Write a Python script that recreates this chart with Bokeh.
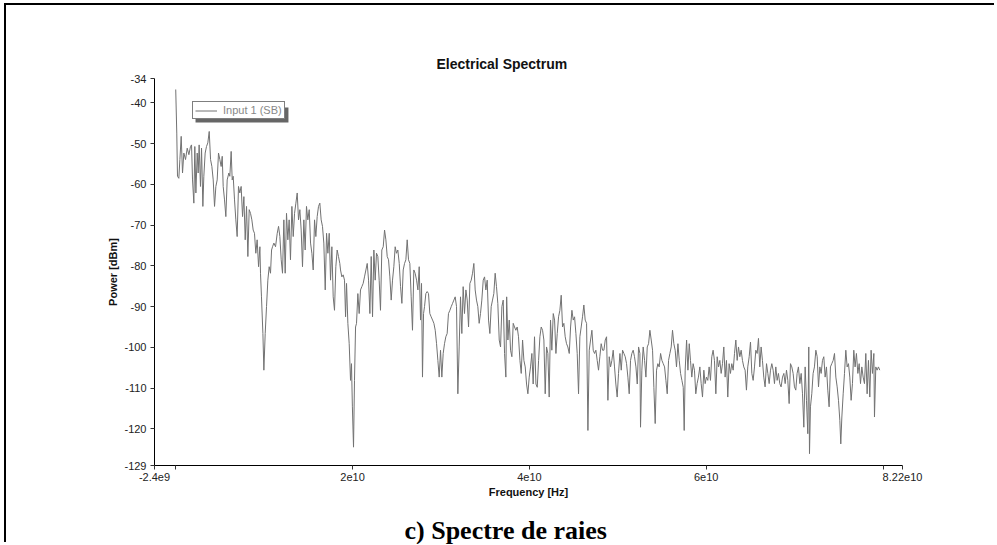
from bokeh.plotting import figure
from bokeh.models import Range1d, FixedTicker, Legend, LegendItem, BoxAnnotation, Title
from bokeh.embed import file_html
from bokeh.resources import INLINE

# ---- data (frequency in GHz, power in dBm) ----
freq_ghz = [
    0.00, 0.12, 0.20, 0.35, 0.47, 0.62, 0.77, 0.92, 1.11, 1.30, 1.49, 1.67, 1.79, 1.90, 2.05, 2.16, 2.28, 2.43,
    2.54, 2.65, 2.80, 2.92, 3.07, 3.18, 3.33, 3.48, 3.63, 3.79, 3.94, 4.09, 4.24, 4.39, 4.54, 4.69, 4.84, 4.99,
    5.14, 5.26, 5.37, 5.52, 5.67, 5.82, 6.01, 6.12, 6.27, 6.39, 6.50, 6.65, 6.80, 6.95, 7.10, 7.25, 7.40, 7.56,
    7.71, 7.86, 8.01, 8.16, 8.31, 8.46, 8.61, 8.76, 8.91, 9.06, 9.21, 9.37, 9.52, 9.59, 9.70, 9.86, 9.97, 10.12,
    10.27, 10.42, 10.57, 10.72, 10.84, 10.95, 11.10, 11.29, 11.48, 11.63, 11.78, 11.93, 12.08, 12.23, 12.38,
    12.53, 12.68, 12.83, 12.98, 13.14, 13.29, 13.44, 13.59, 13.74, 13.89, 14.04, 14.19, 14.34, 14.49, 14.64,
    14.79, 14.94, 15.10, 15.25, 15.40, 15.55, 15.70, 15.85, 16.00, 16.15, 16.30, 16.45, 16.60, 16.75, 16.91,
    17.06, 17.21, 17.36, 17.51, 17.66, 17.81, 17.96, 18.11, 18.26, 18.41, 18.56,
    18.64, 18.79, 18.94, 19.09, 19.21, 19.32, 19.47, 19.62, 19.77, 19.88, 19.98, 20.11, 20.22, 20.34, 20.45,
    20.60, 20.75, 20.90, 21.05, 21.20, 21.35, 21.51, 21.66, 21.81, 21.96, 22.11, 22.26, 22.41, 22.56, 22.71,
    22.86, 23.01, 23.16, 23.31, 23.47, 23.62, 23.77, 23.92, 24.07, 24.22, 24.37, 24.52, 24.67, 24.82, 24.97,
    25.12, 25.28, 25.43, 25.58, 25.73, 25.88, 26.03, 26.18, 26.33, 26.48, 26.63, 26.78, 26.93, 27.08, 27.24,
    27.39, 27.54, 27.69, 27.80, 27.91, 28.03, 28.14, 28.29, 28.44, 28.59, 28.74, 28.89, 29.05, 29.20, 29.35,
    29.50, 29.65, 29.80, 29.95, 30.10, 30.25, 30.40, 30.55, 30.70, 30.85, 31.01, 31.16, 31.31, 31.46, 31.61,
    31.76, 31.91, 32.06, 32.21, 32.36, 32.51, 32.66, 32.82, 32.97, 33.12, 33.27, 33.42, 33.57, 33.72, 33.87,
    34.02, 34.17, 34.32, 34.47, 34.62, 34.78, 34.93, 35.08, 35.23, 35.38, 35.53, 35.68, 35.83, 35.98, 36.13,
    36.28, 36.43, 36.59, 36.74, 36.89, 37.04, 37.19, 37.34, 37.43, 37.57, 37.72,
    37.87, 38.02, 38.17, 38.32, 38.47, 38.62, 38.77, 38.93, 39.08, 39.23, 39.38, 39.53, 39.68, 39.83, 39.98,
    40.13, 40.28, 40.43, 40.58, 40.74, 40.89, 41.04, 41.19, 41.34, 41.49, 41.64, 41.79, 41.94, 42.09, 42.24,
    42.39, 42.54, 42.70, 42.85, 43.00, 43.15, 43.30, 43.45, 43.60, 43.75, 43.90, 44.05, 44.20, 44.35, 44.51,
    44.66, 44.81, 44.96, 45.11, 45.26, 45.41, 45.56, 45.71, 45.86, 46.01, 46.16, 46.31, 46.47, 46.62, 46.77,
    46.92, 47.07, 47.22, 47.37, 47.52, 47.67, 47.82, 47.97, 48.12, 48.28, 48.43, 48.58, 48.73, 48.88, 49.03,
    49.18, 49.33, 49.48, 49.63, 49.78, 49.93, 50.08, 50.24, 50.39, 50.54, 50.69, 50.84, 50.99, 51.14, 51.29,
    51.44, 51.59, 51.74, 51.89, 52.05, 52.20, 52.35, 52.50, 52.57, 52.72, 52.87, 53.03, 53.18, 53.33, 53.48,
    53.63, 53.78, 53.93, 54.08, 54.23, 54.38, 54.53, 54.68, 54.84, 54.99, 55.14, 55.29, 55.44, 55.59, 55.74,
    55.89, 56.04, 56.19, 56.34, 56.49, 56.64, 56.80, 56.95, 57.10, 57.25, 57.40, 57.51, 57.62, 57.78, 57.93,
    58.08,
    58.22, 58.37, 58.52, 58.67, 58.82, 58.97, 59.12, 59.28, 59.43, 59.58, 59.73, 59.88, 60.03, 60.18, 60.33,
    60.48, 60.63, 60.78, 60.93, 61.09, 61.24, 61.39, 61.54, 61.69, 61.84, 61.99, 62.14, 62.29, 62.44, 62.59,
    62.74, 62.89, 63.05, 63.20, 63.35, 63.50, 63.65, 63.80, 63.95, 64.10, 64.25, 64.40, 64.55, 64.70, 64.86,
    65.01, 65.16, 65.31, 65.46, 65.61, 65.76, 65.91, 66.06, 66.21, 66.36, 66.51, 66.66, 66.82, 66.97, 67.12,
    67.27, 67.42, 67.57, 67.72, 67.87, 68.02, 68.17, 68.32, 68.47, 68.63, 68.78, 68.93, 69.08, 69.23, 69.38,
    69.53, 69.68, 69.83, 69.98, 70.13, 70.28, 70.43, 70.59, 70.74, 70.89, 71.04, 71.19, 71.34, 71.49, 71.60,
    71.68, 71.79, 71.94, 72.09, 72.24, 72.40, 72.55, 72.70, 72.85, 73.00, 73.15, 73.30, 73.45, 73.60, 73.75,
    73.90, 74.05, 74.20, 74.36, 74.51, 74.66, 74.81, 74.96, 75.11, 75.22, 75.34, 75.49, 75.64, 75.79, 75.94,
    76.09, 76.24, 76.39, 76.54, 76.69, 76.84, 76.99, 77.15, 77.30, 77.45, 77.60, 77.75, 77.90, 78.05, 78.20,
    78.35, 78.50, 78.65, 78.80, 78.96, 79.03, 79.18, 79.33, 79.48, 79.63,
]

power_dbm = [
    -36.7, -47.4, -58.0, -58.5, -53.9, -48.2, -57.2, -52.3, -53.9, -51.1, -52.7, -50.7, -50.3, -58.9, -64.6, -50.7, -62.1, -52.3,
    -57.2, -50.3, -60.5, -51.1, -65.4, -58.0, -52.3, -50.7, -49.8, -47.0, -53.9, -55.6, -58.9, -65.4, -60.5, -58.9, -52.3, -53.9,
    -55.6, -53.1, -60.5, -63.8, -67.9, -58.9, -57.2, -58.0, -51.9, -58.9, -58.0, -63.8, -68.7, -72.8, -60.5, -62.1, -60.5, -67.9,
    -63.0, -73.6, -65.4, -77.7, -66.2, -67.1, -68.7, -71.2, -72.0, -76.9, -73.6, -80.2, -75.3, -81.8, -87.6, -96.6, -105.6, -96.6,
    -90.0, -83.5, -80.2, -81.8, -76.1, -75.3, -74.4, -75.3, -72.0, -70.3, -72.8, -78.5, -81.8, -68.7, -81.8,
    -67.1, -73.6, -68.7, -78.5, -65.4, -72.8, -67.1, -64.6, -62.1, -68.7, -66.2, -71.2, -80.2, -68.7, -76.1,
    -65.4, -68.7, -66.2, -74.4, -76.9, -81.0, -68.7, -72.8, -67.9, -65.4, -64.6, -68.7, -70.3, -74.4, -85.9,
    -72.0, -76.9, -72.0, -83.5, -75.3, -87.6, -90.9, -80.2, -76.1, -77.7, -79.4,
    -81.0, -82.7, -82.2, -83.5, -92.5, -84.3, -94.1, -99.1, -108.1, -104.0, -114.6, -124.5, -108.1, -95.0, -94.1,
    -86.8, -91.7, -85.9, -85.1, -84.3, -82.7, -81.0, -79.4, -83.5, -91.7, -77.7, -92.5, -76.1, -83.5, -76.9,
    -77.7, -83.5, -90.9, -76.1, -75.3, -71.2, -73.6, -77.7, -78.5, -82.7, -88.4, -83.5, -80.2, -75.3, -76.9,
    -76.1, -79.4, -85.1, -89.2, -81.0, -79.4, -78.5, -73.6, -78.5, -79.4, -87.6, -95.8, -81.0, -81.8, -83.5,
    -85.9, -80.2, -93.3, -84.3, -107.3, -91.7, -90.0, -86.8, -86.3, -86.8, -91.7, -92.5, -93.3, -94.1, -95.8,
    -99.1, -103.2, -107.3, -100.7, -107.3, -101.5, -99.1, -97.4, -96.6, -91.7, -90.9, -90.0, -89.2, -88.4, -87.6,
    -90.0, -111.4, -99.9, -87.6, -96.6, -85.1, -91.7, -85.9, -88.4, -95.0, -84.3, -83.5, -81.8, -79.4, -85.9,
    -88.4, -90.0, -94.1, -91.7, -88.4, -83.5, -82.7, -85.9, -83.5, -93.3, -96.6, -90.0, -88.4, -86.8, -81.8,
    -85.1, -89.2, -98.2, -99.9, -90.0, -88.4, -101.5, -107.3, -87.6, -98.2, -93.3,
    -100.7, -102.3, -94.1, -95.0, -95.8, -95.0, -97.4, -103.2, -106.4, -98.2, -103.2, -104.8, -109.0, -111.4, -107.3,
    -104.8, -101.5, -109.0, -97.4, -109.0, -109.8, -103.2, -97.4, -95.0, -95.8, -98.2, -111.4, -99.9, -101.5, -112.2,
    -93.3, -100.7, -91.7, -93.3, -101.5, -96.6, -92.5, -90.9, -87.2, -95.0, -94.1, -97.4, -99.1, -99.9, -101.5,
    -95.0, -90.9, -93.3, -92.5, -96.6, -101.5, -111.4, -97.4, -95.0, -92.5, -89.6, -93.3, -94.1, -120.4, -100.7,
    -98.2, -95.8, -100.7, -101.5, -100.7, -103.2, -105.6, -102.3, -99.1, -100.7, -100.7, -98.2, -97.4, -113.0, -102.3,
    -104.8, -103.2, -100.7, -104.8, -109.0, -112.2, -106.4, -101.5, -105.6, -100.7, -101.5, -102.3, -104.0, -107.3, -111.4,
    -103.2, -101.5, -100.7, -102.3, -104.8, -109.0, -99.9, -101.5, -119.6, -105.6, -99.9, -103.2, -107.3, -99.9, -99.1,
    -95.8, -98.2, -100.7, -109.8, -118.7, -105.6, -104.0, -104.8, -101.5, -103.2, -104.0, -104.8, -108.1, -111.4, -103.2,
    -101.5, -99.9, -95.8, -99.1, -100.7, -104.8, -99.1, -103.2, -106.4, -108.1, -109.8, -120.4, -105.6, -98.2, -105.6,
    -99.1,
    -103.2, -107.3, -104.0, -105.6, -111.4, -108.9, -107.3, -104.8, -108.9, -112.2, -105.6, -108.9, -107.3, -108.1, -104.8,
    -108.1, -102.3, -100.7, -103.2, -111.4, -102.3, -104.8, -103.2, -106.4, -104.0, -99.9, -107.3, -103.2, -112.2, -104.0,
    -106.4, -104.0, -105.6, -101.5, -98.2, -103.2, -99.9, -102.3, -100.7, -103.2, -104.8, -105.6, -110.5, -104.8, -102.3,
    -98.7, -106.4, -108.1, -104.8, -100.7, -101.5, -97.8, -104.8, -99.9, -103.2, -107.3, -109.7, -104.0, -106.4, -108.9,
    -105.6, -104.0, -105.6, -108.9, -104.8, -108.1, -106.4, -108.9, -109.7, -107.3, -106.4, -108.9, -105.6, -108.1, -113.8,
    -104.0, -104.8, -106.4, -109.7, -110.5, -106.4, -104.8, -108.9, -106.4, -111.4, -119.6, -104.8, -113.0, -121.2, -99.9,
    -126.1, -114.6, -111.4, -106.4, -104.8, -100.7, -102.3, -109.7, -104.8, -106.4, -103.2, -102.3, -107.3, -104.8, -110.5,
    -114.6, -104.8, -104.0, -103.2, -101.5, -107.3, -109.7, -113.0, -117.9, -123.7, -117.1, -111.4, -106.4, -100.7, -104.8,
    -104.0, -107.3, -113.0, -108.9, -100.7, -104.8, -101.5, -106.4, -104.0, -108.9, -104.8, -107.3, -108.9, -101.5, -111.4,
    -103.2, -112.2, -100.7, -106.4, -101.5, -117.1, -104.8, -105.6, -104.8, -105.6,
]

x_min, x_max = -2.4, 82.2          # GHz
y_min, y_max = -129, -34           # dBm
x_ticks = [-2.4, 0, 20, 40, 60, 80, 82.2]
x_tick_labels = {-2.4: "-2.4e9", 0: "", 20: "2e10", 40: "4e10", 60: "6e10", 80: "", 82.2: "8.22e10"}
y_ticks = [-129, -120, -110, -100, -90, -80, -70, -60, -50, -40, -34]
y_tick_labels = {v: str(v) for v in y_ticks}

FONT = "Liberation Sans"

p = figure(width=990, height=539, output_backend="svg", toolbar_location=None,
           x_range=Range1d(x_min, x_max), y_range=Range1d(y_min, y_max),
           min_border_left=148, min_border_right=94, min_border_top=73, min_border_bottom=79,
           background_fill_color="white", border_fill_color="white")
p.styles = {"position": "relative", "left": "6px", "top": "5px",
            "box-shadow": "-2px -2px 0px 0px black"}
p.outline_line_color = None
p.grid.visible = False

p.title.text = "Electrical Spectrum"
p.title.align = "left"
p.title.offset = 282
p.title.standoff = 14
p.title.text_font = FONT
p.title.text_font_size = "14px"
p.title.text_font_style = "bold"
p.title.text_color = "#111111"

for ax in (p.xaxis[0], p.yaxis[0]):
    ax.axis_line_color = "black"
    ax.axis_line_width = 1
    ax.major_tick_line_color = "#333333"
    ax.major_tick_in = 0
    ax.major_tick_out = 4
    ax.minor_tick_line_color = None
    ax.major_label_text_font = FONT
    ax.major_label_text_font_size = "11px"
    ax.major_label_text_color = "#222222"
    ax.axis_label_text_font = FONT
    ax.axis_label_text_font_size = "11px"
    ax.axis_label_text_font_style = "bold"
    ax.axis_label_text_color = "#111111"

p.xaxis[0].ticker = FixedTicker(ticks=x_ticks)
p.xaxis[0].major_label_overrides = x_tick_labels
p.xaxis[0].axis_label = "Frequency [Hz]"
p.xaxis[0].major_label_standoff = 3
p.xaxis[0].axis_label_standoff = 2

p.yaxis[0].ticker = FixedTicker(ticks=y_ticks)
p.yaxis[0].major_label_overrides = y_tick_labels
p.yaxis[0].axis_label = "Power [dBm]"
p.yaxis[0].major_label_standoff = 4
p.yaxis[0].axis_label_standoff = 2

# small spacer between the x axis and the caption
p.add_layout(Title(text=" ", text_font_size="2px", standoff=9), "below")
p.add_layout(Title(text="c) Spectre de raies", align="left", offset=250, standoff=0,
                   vertical_align="bottom",
                   text_font="Liberation Serif", text_font_size="26px",
                   text_font_style="bold", text_color="black"), "below")

r = p.line(freq_ghz, power_dbm, line_color="#727272", line_width=1)

# legend shadow then legend
p.add_layout(BoxAnnotation(left=2.24, right=12.75, top=-41.12, bottom=-44.80,
                           fill_color="#666666", fill_alpha=1, line_color=None))
legend = Legend(items=[LegendItem(label="Input 1 (SB)", renderers=[r])],
                location=(38, 346), padding=2, spacing=0, margin=0,
                label_standoff=6, glyph_width=22, glyph_height=11, label_height=11,
                label_text_font=FONT, label_text_font_size="11px", label_text_color="#888888",
                border_line_color="black", border_line_width=1,
                background_fill_color="white", background_fill_alpha=1)
p.add_layout(legend, "center")

open("out.html", "w").write(file_html(p, INLINE))
